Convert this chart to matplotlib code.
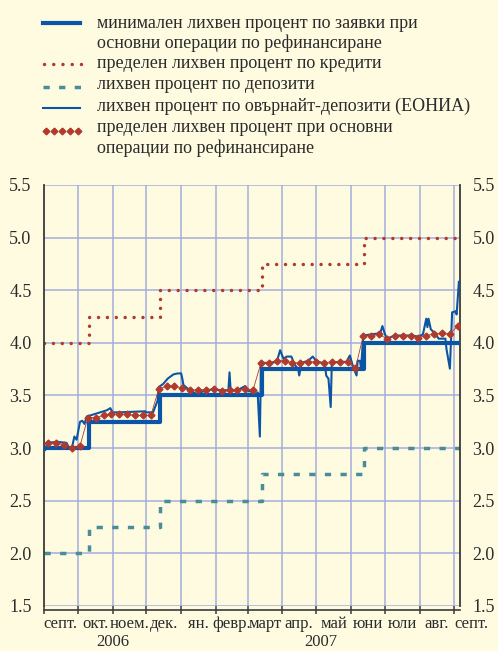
import matplotlib.pyplot as plt
import matplotlib.dates as mdates
import matplotlib.transforms as mtransforms
from matplotlib.lines import Line2D
import numpy as np

# ECB key rates: change dates and levels (last date = end of the axis)
step_dates = ['2006-09-01', '2006-10-11', '2006-12-13', '2007-03-14', '2007-06-13', '2007-09-06']
mro_min = [3.00, 3.25, 3.50, 3.75, 4.00, 4.00]
marginal_lending = [4.00, 4.25, 4.50, 4.75, 5.00, 5.00]
deposit = [2.00, 2.25, 2.50, 2.75, 3.00, 3.00]

# weekly main refinancing operations, marginal rate (first tender 5 Sep 2006)
tender_first = '2006-09-05'
mro_marginal = [3.05, 3.05, 3.03, 3.00, 3.02,
                3.29, 3.29, 3.31, 3.32, 3.32, 3.32, 3.31, 3.31, 3.31,
                3.56, 3.59, 3.59, 3.57, 3.55, 3.555, 3.555, 3.56, 3.54, 3.555, 3.555, 3.56, 3.555,
                3.81, 3.81, 3.83, 3.83, 3.81, 3.81, 3.82, 3.82, 3.81, 3.82, 3.82, 3.82, 3.76,
                4.07, 4.07, 4.08, 4.04, 4.07, 4.07, 4.07, 4.05, 4.07, 4.085, 4.09, 4.085, 4.16]

# EONIA
eonia_dates = ['2006-09-01', '2006-09-02', '2006-09-04', '2006-09-13', '2006-09-21', '2006-09-23',
               '2006-09-26', '2006-09-28', '2006-09-30', '2006-10-03', '2006-10-05', '2006-10-07',
               '2006-10-09', '2006-10-12', '2006-10-21', '2006-10-27', '2006-10-30', '2006-11-01',
               '2006-11-07', '2006-11-30', '2006-12-01', '2006-12-07', '2006-12-11', '2006-12-12',
               '2006-12-16', '2006-12-20', '2006-12-25', '2006-12-29', '2007-01-01', '2007-01-02',
               '2007-01-03', '2007-01-08', '2007-01-12', '2007-01-17', '2007-01-18', '2007-01-24',
               '2007-01-30', '2007-02-05', '2007-02-12', '2007-02-13', '2007-02-14', '2007-02-20',
               '2007-02-27', '2007-02-28', '2007-03-06', '2007-03-09', '2007-03-10', '2007-03-12',
               '2007-03-13', '2007-03-21', '2007-03-27', '2007-03-30', '2007-04-02', '2007-04-05',
               '2007-04-09', '2007-04-12', '2007-04-15', '2007-04-16', '2007-04-18', '2007-04-24',
               '2007-04-28', '2007-05-01', '2007-05-06', '2007-05-09', '2007-05-10', '2007-05-12',
               '2007-05-14', '2007-05-15', '2007-05-21', '2007-05-28', '2007-05-31', '2007-06-03',
               '2007-06-06', '2007-06-07', '2007-06-09', '2007-06-10', '2007-06-12', '2007-06-22',
               '2007-06-27', '2007-06-29', '2007-07-01', '2007-07-03', '2007-07-10', '2007-07-25',
               '2007-07-31', '2007-08-04', '2007-08-07', '2007-08-08', '2007-08-09', '2007-08-11',
               '2007-08-15', '2007-08-18', '2007-08-24', '2007-08-25', '2007-08-28', '2007-08-30',
               '2007-09-02', '2007-09-03', '2007-09-05']
eonia = [3.00, 2.98, 3.05, 3.06, 3.05, 3.01,
         3.01, 3.11, 3.08, 3.25, 3.26, 3.23,
         3.30, 3.31, 3.34, 3.36, 3.38, 3.34,
         3.34, 3.35, 3.34, 3.34, 3.45, 3.58,
         3.61, 3.66, 3.70, 3.71, 3.71, 3.66,
         3.60, 3.555, 3.53, 3.50, 3.53, 3.55,
         3.56, 3.55, 3.55, 3.72, 3.55, 3.55,
         3.59, 3.55, 3.53, 3.50, 3.53, 3.11,
         3.81, 3.81, 3.82, 3.93, 3.85, 3.87,
         3.87, 3.79, 3.755, 3.69, 3.81, 3.83,
         3.87, 3.83, 3.81, 3.78, 3.69, 3.66,
         3.39, 3.81, 3.82, 3.82, 3.88, 3.77,
         3.69, 3.83, 3.83, 3.76, 4.07, 4.085,
         4.09, 4.16, 4.09, 4.04, 4.07, 4.07,
         4.06, 4.08, 4.23, 4.15, 4.23, 4.13,
         4.085, 4.04, 4.04, 3.94, 3.755, 4.29,
         4.30, 4.27, 4.58]

month_starts = ['2006-09-01', '2006-10-01', '2006-11-01', '2006-12-01', '2007-01-01', '2007-02-01',
                '2007-03-01', '2007-04-01', '2007-05-01', '2007-06-01', '2007-07-01', '2007-08-01',
                '2007-09-01', '2007-10-01']
month_labels = ['септ.', 'окт.', 'ноем.', 'дек.', 'ян.', 'февр.', 'март', 'апр.', 'май', 'юни',
                'юли', 'авг.', 'септ.']
years = ['2006', '2007']
year_spans = [('2006-09-01', '2007-01-01'), ('2007-01-01', '2007-09-06')]
y_ticks = [1.5, 2.0, 2.5, 3.0, 3.5, 4.0, 4.5, 5.0, 5.5]

legend_lines = [['минимален лихвен процент по заявки при', 'основни операции по рефинансиране'],
                ['пределен лихвен процент по кредити'],
                ['лихвен процент по депозити'],
                ['лихвен процент по овърнайт-депозити (ЕОНИА)'],
                ['пределен лихвен процент при основни', 'операции по рефинансиране']]

BG = '#fffbe0'
BLUE = '#0a55a5'
RED = '#b03a2e'
TEAL = '#4a8c9a'
GRID = '#a4addb'
TXT = '#2b2b2b'
W, H = 498, 651

plt.rcParams['font.family'] = ['Liberation Serif', 'DejaVu Serif']
plt.rcParams['text.color'] = TXT


def d(s):
    return mdates.date2num(np.datetime64(s))


step_x = [d(s) for s in step_dates]
tender_x = [d(np.datetime64(tender_first) + np.timedelta64(7 * i, 'D')) for i in range(len(mro_marginal))]
eonia_x = [d(s) for s in eonia_dates]
month_x = [d(s) for s in month_starts]

fig = plt.figure(figsize=(W / 100, H / 100), dpi=100, facecolor=BG)
ax = fig.add_axes([44 / W, 1 - 606 / H, 416 / W, 421 / H], facecolor=BG)

# grid
for y in y_ticks:
    ax.axhline(y, color=GRID, lw=1.1, zorder=1)
for x in month_x[1:-1]:
    ax.axvline(x, color=GRID, lw=1.1, zorder=1)

ax.plot(step_x, deposit, drawstyle='steps-post', color=TEAL, lw=2.5,
        linestyle=(0, (1.8, 2.7)), dash_capstyle='butt', zorder=2)
ax.plot(step_x, marginal_lending, drawstyle='steps-post', color=RED, lw=2.5,
        linestyle=(0, (0.01, 2.55)), dash_capstyle='round', zorder=2)
ax.plot(step_x, mro_min, drawstyle='steps-post', color=BLUE, lw=3.0, zorder=3)
ax.plot(eonia_x, eonia, color=BLUE, lw=1.5, zorder=4)
ax.plot(tender_x, mro_marginal, color=RED, lw=0.6, marker='D', ms=3.5,
        mec=RED, mfc=RED, zorder=5)

ax.set_xlim(step_x[0], step_x[-1])
ax.set_ylim(1.5, 5.5)

ax.spines['top'].set_visible(False)
for side in ['left', 'right']:
    ax.spines[side].set_color('#3a3a3a')
    ax.spines[side].set_linewidth(1.3)
ax.spines['bottom'].set_color('#3a3a3a')
ax.spines['bottom'].set_linewidth(1.2)
ax.spines['bottom'].set_position(('outward', 3))

ax.set_yticks(y_ticks)
ax.set_yticklabels(['%.1f' % v for v in y_ticks])
ax.tick_params(axis='y', length=0, labelsize=13, pad=9, colors=TXT,
               left=True, right=True, labelleft=True, labelright=True)
ax.set_xticks(month_x[:-1])
ax.set_xticklabels([])
ax.tick_params(axis='x', direction='inout', length=6, width=1.1, color='#3a3a3a')

trans = mtransforms.blended_transform_factory(ax.transData, fig.transFigure)
for i, lab in enumerate(month_labels):
    xm = (month_x[i] + month_x[i + 1]) / 2
    ax.text(xm, 1 - 624 / H, lab, transform=trans, ha='center', va='center',
            fontsize=12, clip_on=False)
for yr, (a, b) in zip(years, year_spans):
    ax.text((d(a) + d(b)) / 2, 1 - 642 / H, yr, transform=trans, ha='center', va='center',
            fontsize=12, clip_on=False)

# legend, drawn by hand so the keys sit on the first text line
def fy(y):
    return 1 - y / H

hx = [43 / W, 80 / W]
fig.add_artist(Line2D(hx, [fy(23)] * 2, color=BLUE, lw=3.0))
fig.add_artist(Line2D([44 / W, 82 / W], [fy(63.5)] * 2, color=RED, lw=2.5,
                      linestyle=(0, (0.01, 2.65)), dash_capstyle='round'))
fig.add_artist(Line2D([43 / W, 81 / W], [fy(87)] * 2, color=TEAL, lw=2.5,
                      linestyle=(0, (1.8, 2.7)), dash_capstyle='butt'))
fig.add_artist(Line2D(hx, [fy(108)] * 2, color=BLUE, lw=1.5))
fig.add_artist(Line2D(np.linspace(46, 78, 5) / W, [fy(130.5)] * 5, color=RED, lw=0,
                      marker='D', ms=3.4, mfc=RED, mec=RED))

row_y = [23, 43, 63, 84.5, 106, 127, 148]
rows = [line for entry in legend_lines for line in entry]
for lab, ty in zip(rows, row_y):
    fig.text(97 / W, fy(ty), lab, ha='left', va='center', fontsize=13)

fig.savefig('out.png', dpi=100, facecolor=BG)
